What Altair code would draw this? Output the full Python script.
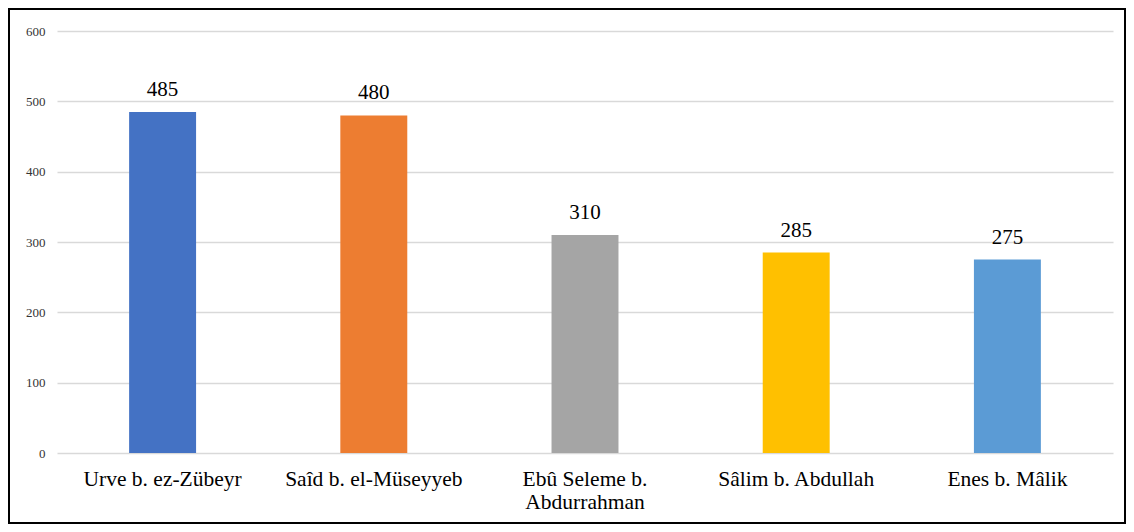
import altair as alt
import pandas as pd

categories = ["Urve b. ez-Zübeyr", "Saîd b. el-Müseyyeb", "Ebû Seleme b.\nAbdurrahman",
              "Sâlim b. Abdullah", "Enes b. Mâlik"]
values = [485, 480, 310, 285, 275]
colors = ["#4472C4", "#ED7D31", "#A5A5A5", "#FFC000", "#5B9BD5"]
y_ticks = [0, 100, 200, 300, 400, 500, 600]

df = pd.DataFrame({"name": categories, "value": values, "color": colors})

W, H = 1056, 422
PL, PT, PR, PB = 49, 23, 13, 71
SERIF = "Liberation Serif, Times New Roman, serif"

x = alt.X("name:N", sort=categories,
          scale=alt.Scale(paddingInner=0.683, paddingOuter=0.3415),
          axis=alt.Axis(title=None, labelAngle=0, labelFont=SERIF,
                        labelFontSize=21.5, labelColor="#000000", labelPadding=15,
                        labelLineHeight=23.5, labelExpr="split(datum.label, '\\n')",
                        ticks=False, domain=False, grid=False, labelLimit=300))
y = alt.Y("value:Q", scale=alt.Scale(domain=[0, 600], nice=False),
          axis=alt.Axis(title=None, values=y_ticks, labelFont=SERIF,
                        labelFontSize=13, labelColor="#333333", labelPadding=12,
                        ticks=False, domain=False, gridColor="#d9d9d9", gridWidth=1.5))

bars = alt.Chart(df).mark_bar().encode(
    x=x, y=y, color=alt.Color("color:N", scale=None)
)
labels = alt.Chart(df).mark_text(dy=-16, baseline="alphabetic", font=SERIF,
                                 fontSize=21, color="#000000").encode(
    x=alt.X("name:N", sort=categories), y="value:Q", text="value:Q"
)
frame = alt.Chart(pd.DataFrame({"f": [1]})).mark_rect(
    filled=False, stroke="#000000", strokeWidth=2
).encode(
    x=alt.value(-PL + 1), x2=alt.value(W + PR - 1),
    y=alt.value(-PT + 1), y2=alt.value(H + PB - 1)
)

chart = alt.layer(bars, labels, frame).properties(
    width=W, height=H,
    autosize=alt.AutoSizeParams(type="none"),
    padding={"left": PL, "top": PT, "right": PR, "bottom": PB},
).configure_view(stroke=None)

chart.save("out.html", embed_options={"renderer": "svg", "actions": False})
